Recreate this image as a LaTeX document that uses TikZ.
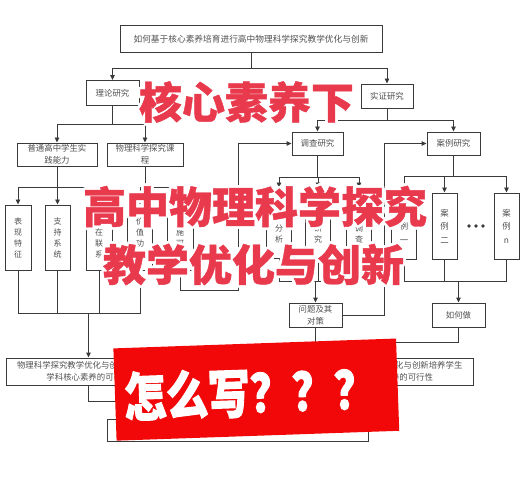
\documentclass[tikz,border=0pt]{standalone}
\usepackage{fontspec}
\setmainfont{Noto Sans CJK SC}
\newfontfamily\heavyfont{Noto Sans CJK SC}[BoldFeatures={FakeBold=1}]
\newfontfamily\askfont{Noto Sans CJK SC}[BoldFeatures={FakeBold=2}]
\usetikzlibrary{arrows.meta}

\definecolor{line_gray}{HTML}{3A3A3A}
\definecolor{text_gray}{HTML}{505050}
\definecolor{title_red}{HTML}{E8394D}
\definecolor{banner_red}{HTML}{F20808}

\begin{document}
\begin{tikzpicture}
    [
        x=1pt, y=-1pt,
        box_node/.style={rectangle, draw=line_gray, line width=0.9pt, fill=white, text=text_gray, font=\fontsize{8.4}{12}\selectfont, align=center, inner sep=1pt},
        tall_node/.style={box_node, minimum width=25pt, minimum height=65pt, font=\fontsize{8}{11}\selectfont},
        case_node/.style={box_node, minimum width=25pt, minimum height=66pt, font=\fontsize{8.4}{13.5}\selectfont},
        link_line/.style={draw=line_gray, line width=0.9pt},
        link_arrow/.style={link_line, -{Triangle[length=5pt, width=4.5pt]}},
        title_text/.style={font=\heavyfont\bfseries\fontsize{43}{43}\selectfont, text=title_red, inner sep=0pt},
        title_glow/.style={title_text, text=white},
        ask_text/.style={font=\askfont\bfseries\fontsize{42}{42}\selectfont, text=white, inner sep=0pt, rotate=2, yscale=1.25},
    ]
        \fill[white] (0,0) rectangle (528,500) ;
        \useasboundingbox (0,0) rectangle (528,500) ;

        % question and the two research lines
        \node[box_node, minimum width=262pt, minimum height=27.5pt, font=\fontsize{8.7}{12}\selectfont] (question) at (251,39) {如何基于核心素养培育进行高中物理科学探究教学优化与创新} ;
        \node[box_node, minimum width=53pt, minimum height=25pt] (theory) at (112.5,93) {理论研究} ;
        \node[box_node, minimum width=52pt, minimum height=24pt] (empir) at (387,96) {实证研究} ;

        % theory side
        \node[box_node, minimum width=80pt, minimum height=23pt] (practice) at (57,154.5) {普通高中学生实\\践能力} ;
        \node[box_node, minimum width=76pt, minimum height=23pt] (course) at (145,154.5) {物理科学探究课\\程} ;
        \node[tall_node, minimum width=26pt] (feat) at (18,237.5) {表\\现\\特\\征} ;
        \node[tall_node] (supp) at (57.5,237.5) {支\\持\\系\\统} ;
        \node[tall_node, minimum width=26pt] (link) at (99,237.5) {内\\在\\联\\系} ;
        \node[tall_node] (value) at (140,237.5) {价\\值\\功\\能} ;
        \node[tall_node, minimum width=26pt] (path) at (180,237.5) {实\\施\\可\\行} ;

        % empirical side
        \node[box_node, minimum width=51pt, minimum height=23pt] (survey) at (317.5,143.5) {调查研究} ;
        \node[box_node, minimum width=53pt, minimum height=23pt] (cases) at (453.5,143.5) {案例研究} ;
        \node[tall_node, minimum height=70pt] (sv1) at (279,223) {现\\状\\分\\析} ;
        \node[tall_node, minimum height=70pt] (sv2) at (318,223) {行\\动\\研\\究} ;
        \node[tall_node, minimum height=70pt] (sv3) at (359,223) {问\\卷\\调\\查} ;
        \node[case_node] (cs1) at (404,226) {案\\例\\一} ;
        \node[case_node] (cs2) at (444.5,226) {案\\例\\二} ;
        \node[case_node] (csn) at (506.5,226) {案\\例\\n} ;
        \foreach \dx in {469,476,483}
            \fill[line_gray] (\dx,226) circle (1.8) ;
        \node[box_node, minimum width=53pt, minimum height=24pt] (issue) at (315.5,315) {问题及其\\对策} ;
        \node[box_node, minimum width=53pt, minimum height=24pt] (howto) at (458.5,315) {如何做} ;

        % conclusions
        \node[box_node, minimum width=165pt, minimum height=27pt] (feasL) at (88.5,371.5) {物理科学探究教学优化与创新培养学生\\学科核心素养的可行性} ;
        \node[box_node, minimum width=165pt, minimum height=27pt] (feasR) at (391,371.5) {物理科学探究教学优化与创新培养学生\\学科核心素养的可行性} ;
        \node[box_node, minimum width=261pt, minimum height=22pt] (final) at (237.5,430) {} ;

        \coordinate (left_join) at (88.5,313) ;
        \coordinate (survey_back) at (238,290) ;
        \coordinate (survey_join) at (315.5,281) ;
        \coordinate (case_join) at (458.5,281) ;
        \coordinate (case_back) at (384,143.5) ;
        \coordinate (right_join) at (391,342) ;
        \coordinate (final_join) at (237.5,401) ;

        \draw[link_arrow] (question.south) -- ++(0,15) -| (theory.north) ;
        \draw[link_arrow] (question.south) -- ++(0,15) -| (empir.north) ;
        \draw[link_arrow] (theory.south) -- ++(0,18.5) -| (practice.north) ;
        \draw[link_arrow] (theory.south) -- ++(0,18.5) -| (course.north) ;
        \foreach \n in {feat,supp,link}
            \draw[link_arrow] (practice.south) -- ++(0,21) -| (\n.north) ;
        \foreach \n in {value,path}
            \draw[link_arrow] (course.south) -- ++(0,21) -| (\n.north) ;
        \foreach \n in {feat,supp,link,value}
            \draw[link_line] (\n.south) |- (left_join) ;
        \draw[link_arrow] (left_join) -- (feasL.north) ;
        \draw[link_arrow] (path.south) |- (survey_back) |- (survey.west) ;

        \draw[link_arrow] (empir.south) -- ++(0,12) -| (survey.north) ;
        \draw[link_arrow] (empir.south) -- ++(0,12) -| (cases.north) ;
        \foreach \n in {sv1,sv2,sv3}
        {
            \draw[link_arrow] (survey.south) -- ++(0,22) -| (\n.north) ;
            \draw[link_line] (\n.south) |- (survey_join) ;
        }
        \foreach \n in {cs1,cs2,csn}
        {
            \draw[link_arrow] (cases.south) -- ++(0,21) -| (\n.north) ;
            \draw[link_line] (\n.south) |- (case_join) ;
        }
        \draw[link_arrow] (survey_join) -- (issue.north) ;
        \draw[link_arrow] (case_join) -- (howto.north) ;
        \draw[link_arrow] (issue.east) -| (case_back) -- (cases.west) ;
        \draw[link_line] (issue.south) |- (right_join) ;
        \draw[link_line] (howto.south) |- (right_join) ;
        \draw[link_arrow] (right_join) -- (feasR.north) ;
        \draw[link_line] (feasL.south) |- (final_join) ;
        \draw[link_line] (feasR.south) |- (final_join) ;
        \draw[link_arrow] (final_join) -- (final.north) ;

        % red titles with a white rim
        \foreach \a in {0,30,...,330}
        {
            \node[title_glow] (glow_a\a) at ([shift={(\a:2.8)}]246.5,102) {核心素养下} ;
            \node[title_glow] (glow_b\a) at ([shift={(\a:2.8)}]255,206.5) {高中物理科学探究} ;
            \node[title_glow] (glow_c\a) at ([shift={(\a:2.8)}]253.5,264.5) {教学优化与创新} ;
        }
        \node[title_text] (title_a) at (246.5,102) {核心素养下} ;
        \node[title_text] (title_b) at (255,206.5) {高中物理科学探究} ;
        \node[title_text] (title_c) at (253.5,264.5) {教学优化与创新} ;

        % red banner
        \node[rectangle, fill=banner_red, rotate=2, minimum width=282.8pt, minimum height=92.3pt, inner sep=0pt] (banner) at (256.3,389.6) {} ;
        \node[ask_text] (ask) at (250,392.5) {怎么写？？？} ;
    \end{tikzpicture}
\end{document}
